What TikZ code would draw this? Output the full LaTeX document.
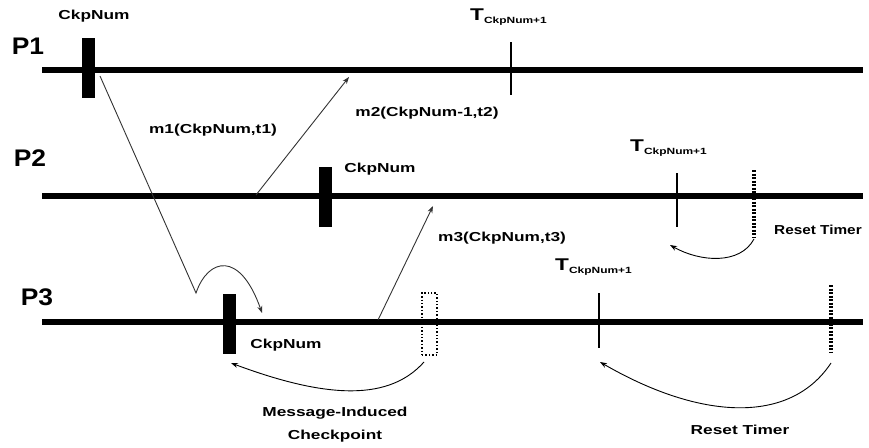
\documentclass[tikz,border=0pt]{standalone}
\usepackage{fontspec}
\setmainfont{Liberation Sans}
\newfontfamily\lab{Liberation Sans}[FakeStretch=1.33]
\newfontfamily\labn{Liberation Sans}[FakeStretch=1.18]
\newfontfamily\plab{Liberation Sans}[FakeStretch=1.1]
\usetikzlibrary{arrows.meta}
\newcommand{\tlab}{{\lab\bfseries\fontsize{17}{17}\selectfont T}\raisebox{-3pt}{\lab\bfseries\fontsize{9}{9}\selectfont CkpNum+1}}
\begin{document}
\begin{tikzpicture}[x=1pt,y=-1pt,
  proc/.style={line width=5.5pt},
  ckp/.style={fill=black,draw=none,inner sep=0pt,minimum width=13pt,minimum height=60pt},
  mic/.style={draw=black,dotted,line width=1.4pt,inner sep=0pt,minimum width=15pt,minimum height=62pt},
  tick/.style={line width=2pt},
  rtick/.style={line width=3.5pt,dash pattern=on 2pt off 1.5pt},
  msg/.style={line width=0.9pt,black!80,-{Stealth[length=7pt,width=5pt]}},
  rst/.style={line width=0.9pt,black,-{Stealth[length=7pt,width=5pt]}},
  lbl/.style={inner sep=0pt,font=\lab\bfseries\fontsize{13}{15}\selectfont},
  plbl/.style={inner sep=0pt,font=\plab\bfseries\fontsize{24}{26}\selectfont},
  tlbl/.style={inner sep=0pt,anchor=west}]
\useasboundingbox (0,0) rectangle (869,447);

% process lines
\coordinate (p1s) at (42,70);  \coordinate (p1e) at (863,70);
\coordinate (p2s) at (42,196); \coordinate (p2e) at (863,196);
\coordinate (p3s) at (42,322); \coordinate (p3e) at (863,322);
\draw[proc] (p1s) -- (p1e);
\draw[proc] (p2s) -- (p2e);
\draw[proc] (p3s) -- (p3e);

\node[plbl] (P1) at (28,46) {P1};
\node[plbl] (P2) at (30,158) {P2};
\node[plbl] (P3) at (37,297) {P3};

% checkpoints
\node[ckp] (c1) at (88,68) {};
\node[ckp] (c2) at (325,197) {};
\node[ckp] (c3) at (229,323.5) {};
\node[mic] (mc) at (429.5,324) {};

\node[lbl] (c1l) at (94,16) {CkpNum};
\node[lbl] (c2l) at (380,169) {CkpNum};
\node[lbl] (c3l) at (286,345) {CkpNum};

% timer ticks
\coordinate (t1a) at (511,42);  \coordinate (t1b) at (511,95);
\coordinate (t2a) at (677,173); \coordinate (t2b) at (677,227);
\coordinate (t3a) at (599,293); \coordinate (t3b) at (599,348);
\draw[tick] (t1a) -- (t1b);
\draw[tick] (t2a) -- (t2b);
\draw[tick] (t3a) -- (t3b);
\node[tlbl] (t1l) at (470,17) {\tlab};
\node[tlbl] (t2l) at (630,148) {\tlab};
\node[tlbl] (t3l) at (555,267) {\tlab};

% reset ticks
\coordinate (r2a) at (754,170); \coordinate (r2b) at (754,237);
\coordinate (r3a) at (831,285); \coordinate (r3b) at (831,353);
\draw[rtick] (r2a) -- (r2b);
\draw[rtick] (r3a) -- (r3b);

% messages
\coordinate (m1s) at (100,76); \coordinate (m1v) at (196,293); \coordinate (m1e) at (262,313);
\coordinate (m2s) at (256,195); \coordinate (m2e) at (349,77);
\coordinate (m3s) at (378,320); \coordinate (m3e) at (433,206);
\draw[msg] (m1s) -- (m1v) .. controls (208,258) and (240,250) .. (m1e);
\draw[msg] (m2s) -- (m2e);
\draw[msg] (m3s) -- (m3e);
\node[lbl] (m1l) at (213,130) {m1(CkpNum,t1)};
\node[lbl] (m2l) at (427,113) {m2(CkpNum-1,t2)};
\node[lbl,anchor=west] (m3l) at (438,238) {m3(CkpNum,t3)};

% curved arrows
\coordinate (a1s) at (424,362); \coordinate (a1e) at (231,363);
\coordinate (a2s) at (754,239); \coordinate (a2e) at (670,245);
\coordinate (a3s) at (831,363); \coordinate (a3e) at (600,362);
\draw[rst] (a1s) .. controls (390,400) and (330,400) .. (a1e);
\draw[rst] (a2s) .. controls (740,265) and (700,262) .. (a2e);
\draw[rst] (a3s) .. controls (790,425) and (700,420) .. (a3e);

\node[lbl] (mil1) at (335,413) {Message-Induced};
\node[lbl] (mil2) at (335,436) {Checkpoint};
\node[lbl,anchor=west,font=\labn\bfseries\fontsize{13}{15}\selectfont] (rt2) at (774,230) {Reset Timer};
\node[lbl] (rt3) at (740,430) {Reset Timer};
\end{tikzpicture}
\end{document}
